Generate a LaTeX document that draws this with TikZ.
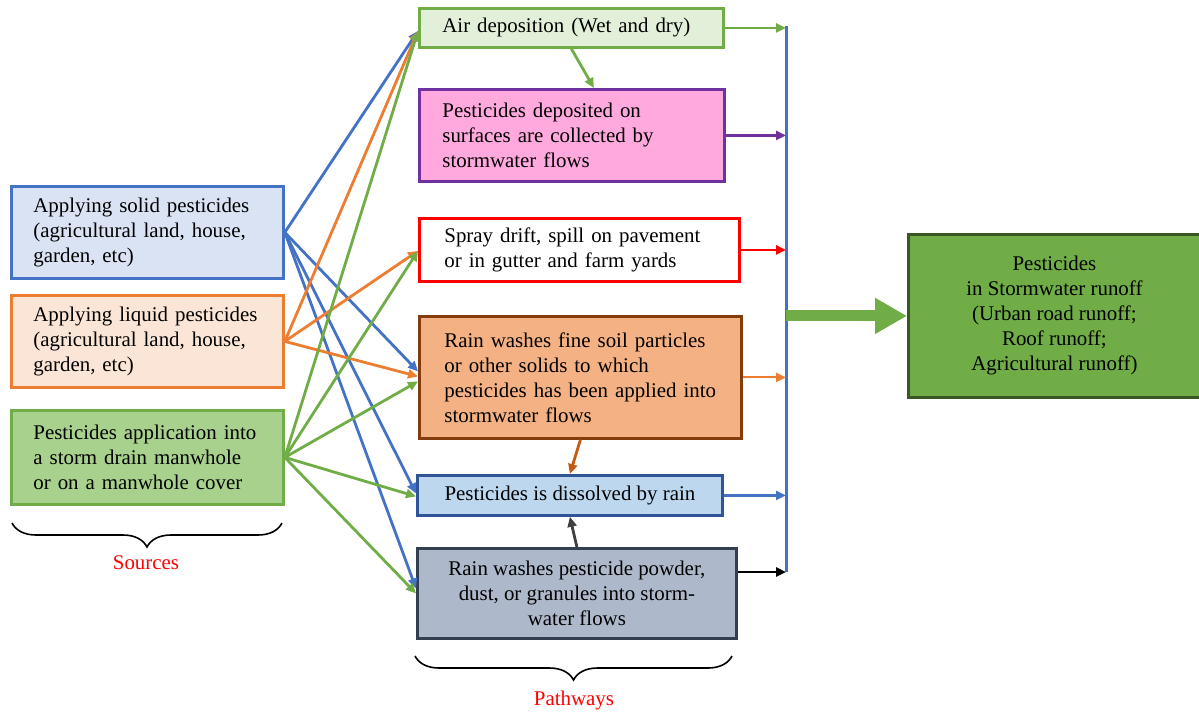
\documentclass[tikz,border=0pt]{standalone}
\usepackage{fontspec}
\setmainfont{Liberation Serif}
\usetikzlibrary{arrows.meta,calc,decorations.pathreplacing}
\definecolor{cblue}{HTML}{4472C4}
\definecolor{corange}{HTML}{ED7D31}
\definecolor{cgreen}{HTML}{70AD47}
\definecolor{cpurple}{HTML}{7030A0}
\definecolor{cred}{HTML}{FF0000}
\definecolor{cbrown}{HTML}{843C0C}
\definecolor{cbrownar}{HTML}{C55A11}
\definecolor{cdblue}{HTML}{2F5597}
\definecolor{cslate}{HTML}{333F50}
\definecolor{cdgreen}{HTML}{385723}
\definecolor{fsone}{HTML}{DAE3F3}
\definecolor{fstwo}{HTML}{FBE5D6}
\definecolor{fsthree}{HTML}{A9D18E}
\definecolor{fpone}{HTML}{E2F0D9}
\definecolor{fptwo}{HTML}{FFA9DE}
\definecolor{fpfour}{HTML}{F4B183}
\definecolor{fpfive}{HTML}{BDD7EE}
\definecolor{fpsix}{HTML}{ADB9CA}
\definecolor{cdark}{HTML}{404040}
\newcommand\myind[1]{\hspace*{#1}}
\begin{document}
\begin{tikzpicture}[x=0.5pt,y=-0.5pt,
  font=\fontsize{10.45}{12.5}\selectfont,
  bx/.style={draw, line width=1.4pt, rectangle, inner xsep=0pt, inner ysep=0pt, anchor=north west},
  conn/.style={line width=1.4pt, -{Triangle[length=5pt,width=4.5pt]}},
  lbl/.style={text=cred, inner sep=0pt},
  brc/.style={decorate, decoration={brace, mirror, amplitude=12pt}, line width=0.8pt, black}
]
\useasboundingbox (0,0) rectangle (1199,713);

% Sources
\node[bx, fill=fsone, draw=cblue, text width=136pt, minimum height=46pt, align=left] (S1) at (10,185)
  {\myind{11pt}Applying solid pesticides\\\myind{11pt}(agricultural land, house,\\\myind{11pt}garden, etc)};
\node[bx, fill=fstwo, draw=corange, text width=136pt, minimum height=46pt, align=left] (S2) at (10,294)
  {\myind{11pt}Applying liquid pesticides\\\myind{11pt}(agricultural land, house,\\\myind{11pt}garden, etc)};
\node[bx, fill=fsthree, draw=cgreen, text width=136pt, minimum height=47pt, align=left] (S3) at (10,409)
  {\myind{11pt}Pesticides application into\\\myind{11pt}a storm drain manwhole\\\myind{11pt}or on a manwhole cover};

% Pathways
\node[bx, fill=fpone, draw=cgreen, text width=152pt, minimum height=19.5pt, align=left] (P1) at (418,7)
  {\myind{11.5pt}Air deposition (Wet and dry)};
\node[bx, fill=fptwo, draw=cpurple, text width=152.5pt, minimum height=46pt, align=left] (P2) at (418,88)
  {\myind{11.5pt}Pesticides deposited on\\\myind{11.5pt}surfaces are collected by\\\myind{11.5pt}stormwater flows};
\node[bx, fill=white, draw=cred, text width=160pt, minimum height=31.5pt, align=left] (P3) at (418,217)
  {\myind{12.5pt}Spray drift, spill on pavement\\\myind{12.5pt}or in gutter and farm yards};
\node[bx, fill=fpfour, draw=cbrown, text width=161pt, minimum height=61pt, align=left] (P4) at (418,315)
  {\myind{12.5pt}Rain washes fine soil particles\\\myind{12.5pt}or other solids to which\\\myind{12.5pt}pesticides has been applied into\\\myind{12.5pt}stormwater flows};
\node[bx, fill=fpfive, draw=cdblue, minimum width=152.5pt, minimum height=20pt, align=center] (P5) at (416,474)
  {Pesticides is dissolved by rain};
\node[bx, fill=fpsix, draw=cslate, minimum width=159.5pt, minimum height=45pt, align=center] (P6) at (416,547)
  {Rain washes pesticide powder,\\dust, or granules into storm-\\water flows};

% Target
\node[bx, fill=cgreen, draw=cdgreen, minimum width=146pt, minimum height=81.5pt, align=center] (T) at (907,233)
  {Pesticides\\in Stormwater runoff\\(Urban road runoff;\\Roof runoff;\\Agricultural runoff)};

% Braces and labels
\coordinate (sb1) at (12,523);
\coordinate (sb2) at (282,523);
\draw[brc] (sb1) -- (sb2);
\node[lbl] (srcl) at (146,563) {Sources};
\coordinate (pb1) at (415,656);
\coordinate (pb2) at (732,656);
\draw[brc] (pb1) -- (pb2);
\node[lbl] (pathl) at (574,700) {Pathways};

% Source connectors
\draw[conn, cblue] (S1.east) -- ($(P1.west)+(0,3)$);
\draw[conn, cblue] (S1.east) -- ($(P4.west)+(0,-6)$);
\draw[conn, cblue] (S1.east) -- ($(P5.west)+(0,-2)$);
\draw[conn, cblue] (S1.east) -- ($(P6.west)+(0,-5)$);
\draw[conn, corange] (S2.east) -- ($(P1.west)+(0,3)$);
\draw[conn, corange] (S2.east) -- ($(P3.west)+(0,1)$);
\draw[conn, corange] (S2.east) -- ($(P4.west)+(0,-1)$);
\draw[conn, cgreen] (S3.east) -- ($(P1.west)+(0,3)$);
\draw[conn, cgreen] (S3.east) -- ($(P3.west)+(0,1)$);
\draw[conn, cgreen] (S3.east) -- ($(P4.west)+(0,4)$);
\draw[conn, cgreen] (S3.east) -- ($(P5.west)+(0,1)$);
\draw[conn, cgreen] (S3.east) -- (P6.west);

% Pathway internal
\draw[conn, cgreen] (P1.south) -- ($(P2.north)+(22,0)$);
\draw[conn, cbrownar] (P4.south) -- (P5.north);
\draw[conn, cdark] (P6.north) -- (P5.south);

% Bus
\coordinate (bt) at (786,26);
\coordinate (bb) at (786,572);
\draw[cblue, line width=1.5pt] (bt) -- (bb);
\draw[conn, cgreen] (P1.east) -- (P1.east -| bt);
\draw[conn, cpurple] (P2.east) -- (P2.east -| bt);
\draw[conn, cred] (P3.east) -- (P3.east -| bt);
\draw[conn, corange, line width=1pt] (P4.east) -- (P4.east -| bt);
\draw[conn, cblue] (P5.east) -- (P5.east -| bt);
\draw[conn, black] (P6.east |- bb) -- (bb);
\draw[cgreen, line width=5.5pt, -{Triangle[length=16pt,width=17pt]}] (T.west -| bt) -- (T.west);
\end{tikzpicture}
\end{document}
